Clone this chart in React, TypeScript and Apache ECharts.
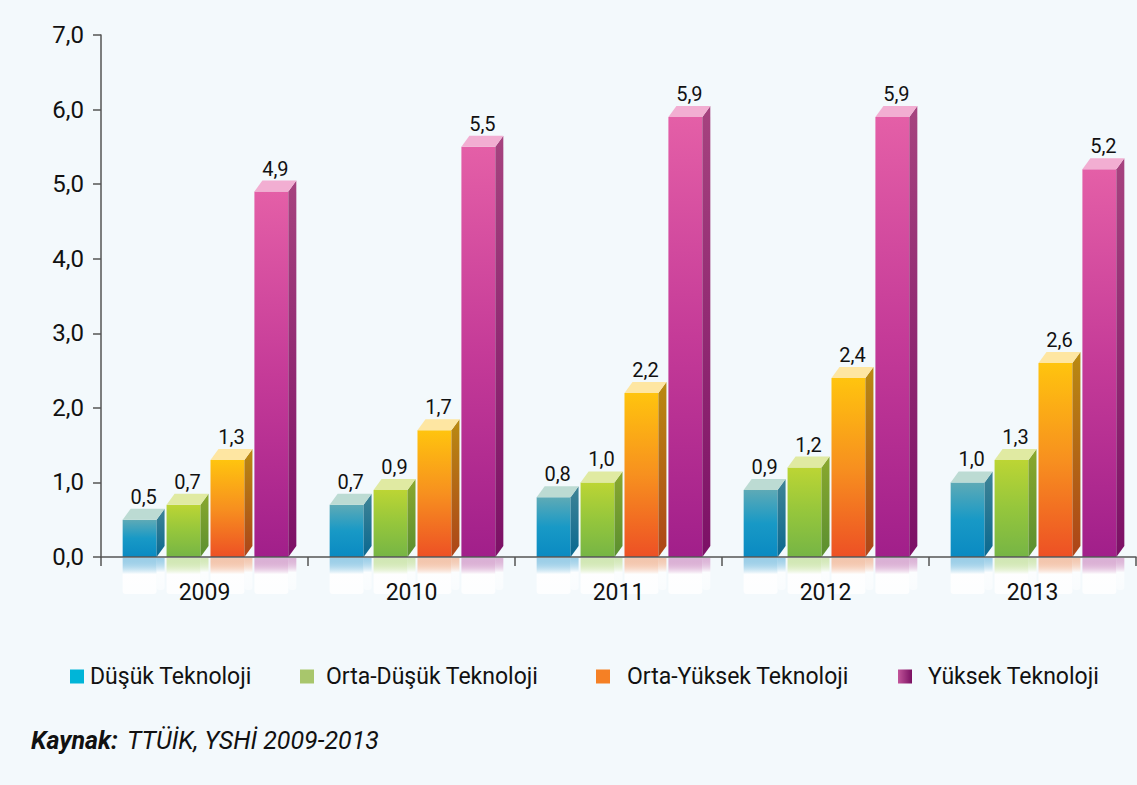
import React, { useEffect, useRef } from "react";
import * as echarts from "echarts";

const years = ["2009", "2010", "2011", "2012", "2013"];
const seriesNames = ["Düşük Teknoloji", "Orta-Düşük Teknoloji", "Orta-Yüksek Teknoloji", "Yüksek Teknoloji"];
const dusuk = [0.5, 0.7, 0.8, 0.9, 1.0];
const ortaDusuk = [0.7, 0.9, 1.0, 1.2, 1.3];
const ortaYuksek = [1.3, 1.7, 2.2, 2.4, 2.6];
const yuksek = [4.9, 5.5, 5.9, 5.9, 5.2];
const yTicks = [0, 1, 2, 3, 4, 5, 6, 7];

const FONT = "Roboto, 'DejaVu Sans', sans-serif";

const palettes = [
  { front: ["#5eaab6", "#1899c6", "#0a8ac2"], side: ["#3f8496", "#0a6890"], top: "#bcdbd3", refl: "rgba(20,140,200,0.38)", legend: "#00b5d8" },
  { front: ["#bcd534", "#95c63c", "#76b545"], side: ["#8aa82e", "#5a8f30"], top: "#e0eaa2", refl: "rgba(150,200,60,0.35)", legend: "#a8c66c" },
  { front: ["#ffc40e", "#f7901f", "#ed5025"], side: ["#b98a12", "#ad4418"], top: "#fee6a2", refl: "rgba(240,110,40,0.35)", legend: "#f58025" },
  { front: ["#e45fa7", "#c53b98", "#a11f8a"], side: ["#a6437f", "#7c1066"], top: "#f2aed2", refl: "rgba(170,40,140,0.32)", legend: null },
];

const vgrad = (stops: string[]) =>
  new echarts.graphic.LinearGradient(0, 0, 0, 1,
    stops.map((c, i) => ({ offset: i / (stops.length - 1), color: c })));

const fmt = (v: number) => v.toFixed(1).replace(".", ",");

function makeRender(idx: number) {
  const p = palettes[idx];
  return (params: any, api: any) => {
    const cat = api.value(0);
    const val = api.value(1);
    const base = api.coord([cat, 0]);
    const top = api.coord([cat, val]);
    const bw = api.size([1, 0])[0];
    const s = bw / 207.4;
    const x0 = base[0] + (-82 + 44 * idx) * s;
    const w = 34 * s;
    const dx = 8;
    const dy = 11;
    const yT = top[1];
    const yB = base[1];
    const reflH = 36;
    return {
      type: "group",
      children: [
        {
          type: "rect",
          shape: { x: x0, y: yB + 1, width: w, height: reflH, r: [0, 0, 3, 3] },
          style: {
            fill: new echarts.graphic.LinearGradient(0, 0, 0, 1, [
              { offset: 0, color: p.refl },
              { offset: 0.45, color: "rgba(255,255,255,0.9)" },
              { offset: 1, color: "rgba(255,255,255,0.85)" },
            ]),
          },
          silent: true,
        },
        {
          type: "rect",
          shape: { x: x0 + w, y: yB + 1, width: dx, height: reflH - 4, r: [0, 0, 3, 3] },
          style: {
            fill: new echarts.graphic.LinearGradient(0, 0, 0, 1, [
              { offset: 0, color: p.refl },
              { offset: 0.45, color: "rgba(255,255,255,0.7)" },
              { offset: 1, color: "rgba(255,255,255,0.5)" },
            ]),
          },
          silent: true,
        },
        {
          type: "rect",
          shape: { x: x0, y: yT, width: w, height: yB - yT },
          style: { fill: vgrad(p.front) },
        },
        {
          type: "polygon",
          shape: { points: [[x0 + w, yT], [x0 + w + dx, yT - dy], [x0 + w + dx, yB - dy], [x0 + w, yB]] },
          style: { fill: vgrad(p.side) },
        },
        {
          type: "polygon",
          shape: { points: [[x0, yT], [x0 + dx, yT - dy], [x0 + w + dx, yT - dy], [x0 + w, yT]] },
          style: { fill: p.top },
        },
        {
          type: "text",
          style: {
            text: fmt(val),
            x: x0 + (w + dx) / 2,
            y: yT - dy - 2,
            textAlign: "center",
            textVerticalAlign: "bottom",
            fill: "#111",
            fontSize: 20,
            fontFamily: FONT,
          },
        },
      ],
    };
  };
}

const allData = [dusuk, ortaDusuk, ortaYuksek, yuksek];

const legendPos = [
  { left: 65, pad: 1 },
  { left: 295, pad: 7 },
  { left: 591, pad: 12 },
  { left: 893, pad: 11 },
];

export default function App() {
  const ref = useRef<HTMLDivElement>(null);
  useEffect(() => {
    if (!ref.current) return;
    const chart = echarts.init(ref.current, null, { renderer: "svg" });
    const legendColors: any[] = palettes.map((p) => p.legend);
    legendColors[3] = new echarts.graphic.LinearGradient(0, 0, 1, 0, [
      { offset: 0, color: "#c2559a" },
      { offset: 1, color: "#7a1062" },
    ]);
    chart.setOption({
      animation: false,
      backgroundColor: "#f3f9fc",
      grid: { left: 101, right: 1, top: 35, bottom: 228, containLabel: false },
      xAxis: {
        type: "category",
        data: years,
        axisLine: { lineStyle: { color: "#555", width: 1.5 } },
        axisTick: { show: true, length: 9, lineStyle: { color: "#555", width: 1.5 } },
        axisLabel: { margin: 24, fontSize: 23, color: "#111", fontFamily: FONT },
        splitLine: { show: false },
        z: 10,
      },
      yAxis: {
        type: "value",
        min: 0,
        max: 7,
        interval: 1,
        axisLine: { show: true, lineStyle: { color: "#555", width: 1.5 } },
        axisTick: { show: true, length: 8, lineStyle: { color: "#555", width: 1.5 } },
        axisLabel: {
          margin: 17,
          fontSize: 24,
          color: "#111",
          fontFamily: FONT,
          formatter: (v: number) => (yTicks.includes(v) ? fmt(v) : ""),
        },
        splitLine: { show: false },
      },
      legend: seriesNames.map((n, i) => ({
        left: legendPos[i].left,
        top: 660,
        itemWidth: 14,
        itemHeight: 14,
        icon: "rect",
        selectedMode: false,
        textStyle: { fontSize: 23, color: "#111", fontFamily: FONT, padding: [0, 0, 0, legendPos[i].pad] },
        data: [{ name: n, itemStyle: { color: legendColors[i] } }],
      })),
      graphic: [
        {
          type: "text",
          left: 31,
          top: 728,
          style: {
            text: "{b|Kaynak:}{i|TTÜİK, YSHİ 2009-2013}",
            rich: {
              b: { fontSize: 25, fontWeight: "bold", fontStyle: "italic", fill: "#111", fontFamily: FONT, padding: [0, 9, 0, 0] },
              i: { fontSize: 25, fontStyle: "italic", fill: "#111", fontFamily: FONT },
            },
          },
        },
      ],
      series: seriesNames.map((n, i) => ({
        type: "custom",
        name: n,
        itemStyle: { color: palettes[i].legend || "#a81f80" },
        renderItem: makeRender(i),
        encode: { x: 0, y: 1 },
        data: allData[i].map((v, k) => [k, v]),
        z: 3,
      })),
    });
    return () => chart.dispose();
  }, []);
  return (
    <div
      ref={ref}
      style={{ position: "fixed", left: 0, top: 0, width: 1137, height: 785 }}
    />
  );
}
